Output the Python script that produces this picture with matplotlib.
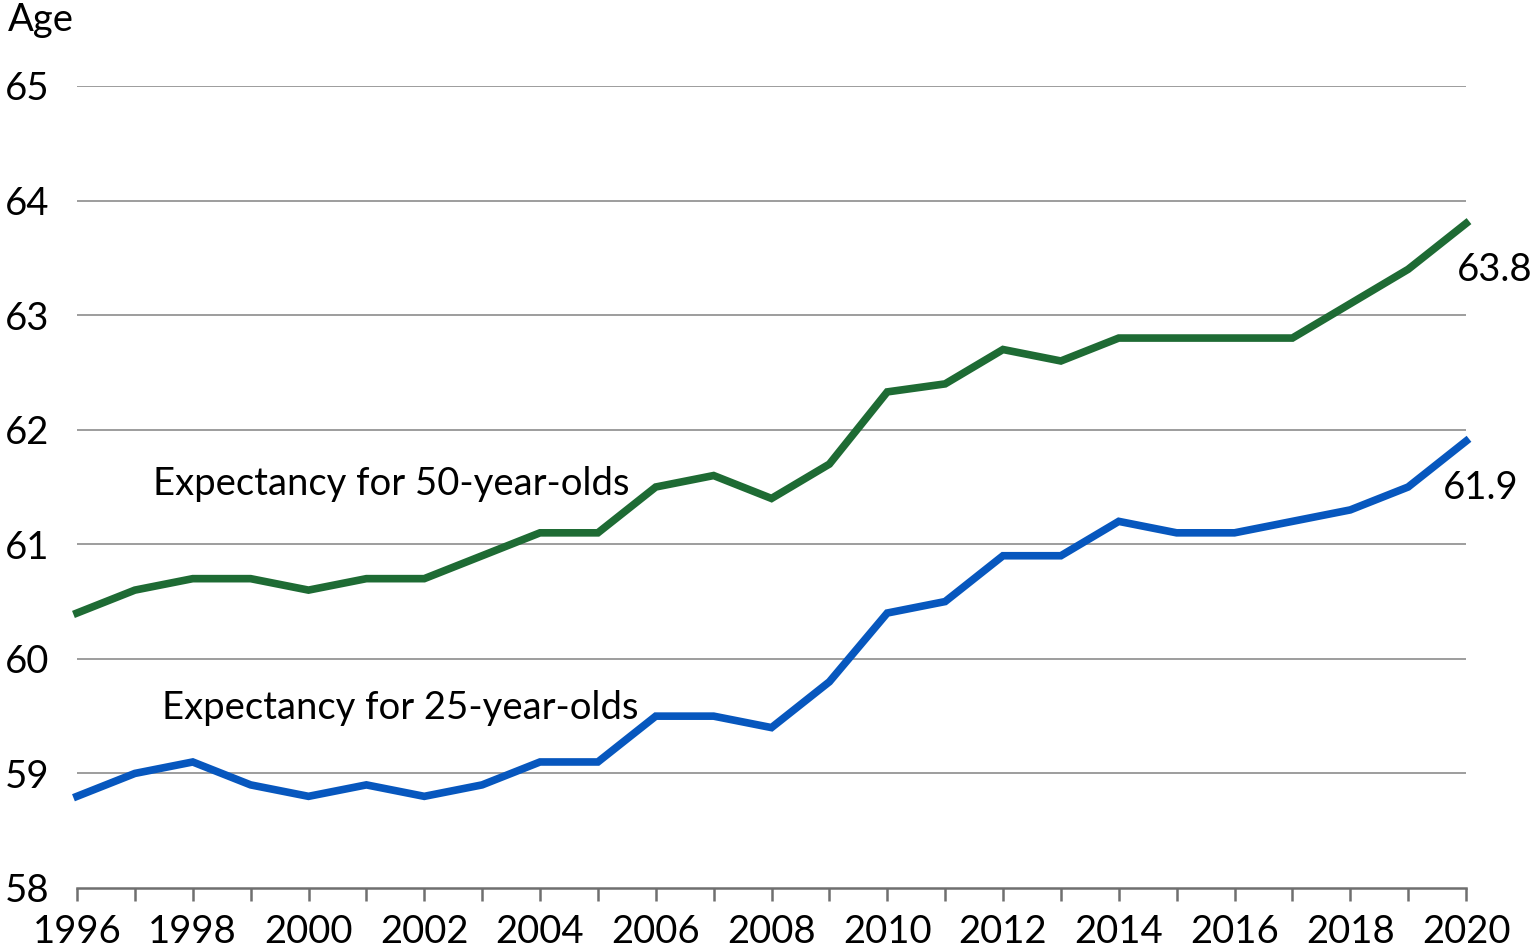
import matplotlib
matplotlib.use("Agg")
import matplotlib.pyplot as plt
from matplotlib.ticker import MultipleLocator

years = list(range(1996, 2021))
age50 = [60.4, 60.6, 60.7, 60.7, 60.6, 60.7, 60.7, 60.9, 61.1, 61.1, 61.5, 61.6, 61.4,
         61.7, 62.33, 62.4, 62.7, 62.6, 62.8, 62.8, 62.8, 62.8, 63.1, 63.4, 63.8]
age25 = [58.8, 59.0, 59.1, 58.9, 58.8, 58.9, 58.8, 58.9, 59.1, 59.1, 59.5, 59.5, 59.4,
         59.8, 60.4, 60.5, 60.9, 60.9, 61.2, 61.1, 61.1, 61.2, 61.3, 61.5, 61.9]
label50 = "Expectancy for 50-year-olds"
label25 = "Expectancy for 25-year-olds"
ylabel = "Age"

plt.rcParams['font.family'] = ['Lato', 'DejaVu Sans']
FS = 27.5

fig = plt.figure(figsize=(15.35, 9.5), dpi=100)
ax = fig.add_axes([77/1535, 62/950, (1466-77)/1535, (888-86)/950])

ax.set_xlim(1996, 2020)
ax.set_ylim(58, 65)
for y in range(59, 66):
    ax.axhline(y, color='#8c8c8c', lw=1.2, zorder=1)

ax.plot(years, age50, color='#1E6B34', lw=5.5, solid_joinstyle='miter', zorder=3, clip_on=False)
ax.plot(years, age25, color='#0757BE', lw=5.5, solid_joinstyle='miter', zorder=3, clip_on=False)

for s in ['top', 'right', 'left']:
    ax.spines[s].set_visible(False)
ax.spines['bottom'].set_color('#6f6f6f')
ax.spines['bottom'].set_linewidth(1.8)

ax.xaxis.set_major_locator(MultipleLocator(2))
ax.xaxis.set_minor_locator(MultipleLocator(1))
ax.tick_params(axis='x', which='both', direction='out', length=9.5, width=1.8,
               color='#6f6f6f', labelsize=FS, pad=9)
ax.yaxis.set_major_locator(MultipleLocator(1))
ax.tick_params(axis='y', length=0, labelsize=FS, pad=52)
for lab in ax.get_yticklabels():
    lab.set_horizontalalignment('left')

fig.text(8/1535, 1 - 20/950, ylabel, fontsize=FS, va='center', ha='left')

ax.text(1997.31, 61.53, label50, fontsize=FS, va='center', ha='left')
ax.text(1997.47, 59.57, label25, fontsize=FS, va='center', ha='left')
ax.text(2019.85, 63.39, "63.8", fontsize=FS, va='center', ha='left', clip_on=False)
ax.text(2019.6, 61.49, "61.9", fontsize=FS, va='center', ha='left', clip_on=False)

fig.savefig("out.png", dpi=100)
